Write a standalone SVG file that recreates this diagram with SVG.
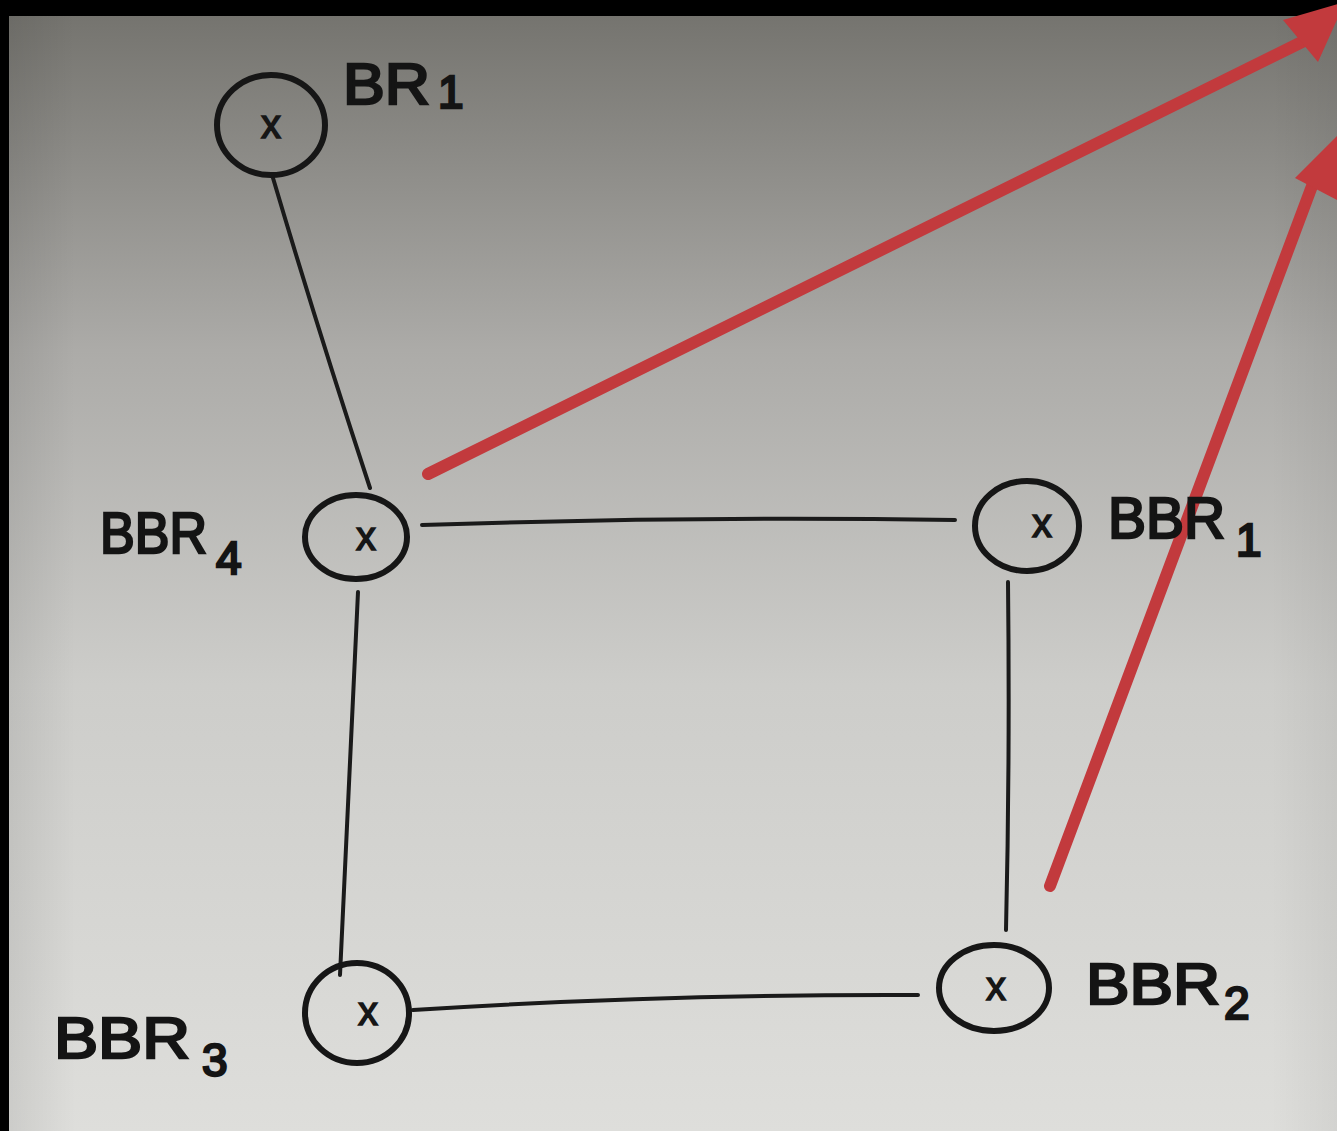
<svg xmlns="http://www.w3.org/2000/svg" width="1337" height="1131" viewBox="0 0 1337 1131">
<defs>
<linearGradient id="paper" x1="0" y1="0" x2="0" y2="1">
<stop offset="0" stop-color="#75746f"/>
<stop offset="0.3" stop-color="#acaba8"/>
<stop offset="0.6" stop-color="#cdcdca"/>
<stop offset="1" stop-color="#dededb"/>
</linearGradient>
<linearGradient id="vig" x1="0" y1="0" x2="1" y2="0">
<stop offset="0" stop-color="#000" stop-opacity="0.08"/>
<stop offset="0.05" stop-color="#000" stop-opacity="0"/>
<stop offset="0.95" stop-color="#000" stop-opacity="0"/>
<stop offset="1" stop-color="#000" stop-opacity="0.05"/>
</linearGradient>
</defs>
<style>
.ring{fill:none;stroke:#161616;stroke-width:6}
.mark{font-family:"Liberation Sans",Arial,sans-serif;font-size:40px;fill:#161616;stroke:#161616;stroke-width:1.5}
.lbl{font-family:"Liberation Sans",Arial,sans-serif;font-size:58px;fill:#141414;stroke:#141414;stroke-width:2.5}
.sub{font-family:"Liberation Sans",Arial,sans-serif;font-size:46px;fill:#141414;stroke:#141414;stroke-width:2.5}
.edge{fill:none;stroke:#1a1a1a;stroke-width:4;stroke-linecap:round}
.red{fill:none;stroke:#c23a3d;stroke-width:12;stroke-linecap:round}
.redh{fill:#c23a3d}
</style>
<rect x="0" y="0" width="1337" height="1131" fill="#000"/>
<rect x="9" y="16" width="1328" height="1115" fill="url(#paper)"/>
<rect x="9" y="16" width="1328" height="1115" fill="url(#vig)"/>

<g id="connectors">
<path class="edge" d="M273 178 Q318 330 370 488"/>
<path class="edge" d="M422 525 Q690 516 955 520"/>
<path class="edge" d="M358 592 Q350 780 340 975"/>
<path class="edge" d="M1008 582 Q1010 760 1006 930"/>
<path class="edge" d="M413 1010 Q660 994 918 995"/>
<g id="red-arrows">
<path class="red" d="M428 474 L1310 38"/>
<polygon class="redh" points="1283,20 1345,2 1318,62"/>
<path class="red" d="M1050 886 L1318 170"/>
<polygon class="redh" points="1295,178 1345,128 1337,200"/>
</g>
</g>

<g id="BR1">
<ellipse class="ring" cx="271" cy="125" rx="54" ry="50"/>
<text class="mark" x="271" y="138" text-anchor="middle">x</text>
<text class="lbl" x="343" y="104" textLength="87" lengthAdjust="spacingAndGlyphs">BR</text>
<text class="sub" x="438" y="108">1</text>
</g>

<g id="BBR4">
<ellipse class="ring" cx="356" cy="537" rx="51" ry="42"/>
<text class="mark" x="366" y="550" text-anchor="middle">x</text>
<text class="lbl" x="100" y="553" textLength="107" lengthAdjust="spacingAndGlyphs">BBR</text>
<text class="sub" x="216" y="574">4</text>
</g>

<g id="BBR1">
<ellipse class="ring" cx="1027" cy="526" rx="52" ry="45"/>
<text class="mark" x="1042" y="537" text-anchor="middle">x</text>
<text class="lbl" x="1108" y="538" textLength="117" lengthAdjust="spacingAndGlyphs">BBR</text>
<text class="sub" x="1236" y="556">1</text>
</g>

<g id="BBR2">
<ellipse class="ring" cx="994" cy="988" rx="55" ry="43"/>
<text class="mark" x="996" y="1000" text-anchor="middle">x</text>
<text class="lbl" x="1086" y="1004" textLength="134" lengthAdjust="spacingAndGlyphs">BBR</text>
<text class="sub" x="1224" y="1019">2</text>
</g>

<g id="BBR3">
<ellipse class="ring" cx="357" cy="1013" rx="52" ry="50"/>
<text class="mark" x="368" y="1025" text-anchor="middle">x</text>
<text class="lbl" x="54" y="1058" textLength="136" lengthAdjust="spacingAndGlyphs">BBR</text>
<text class="sub" x="202" y="1076">3</text>
</g>
</svg>
